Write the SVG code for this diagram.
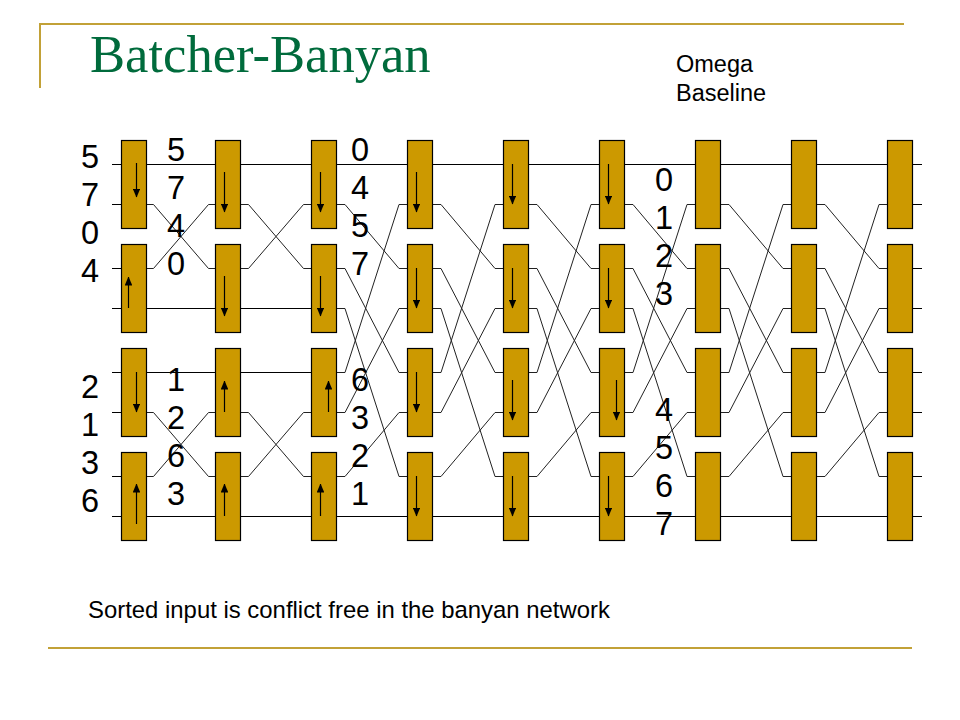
<svg xmlns="http://www.w3.org/2000/svg" width="960" height="720" viewBox="0 0 960 720">
<style>
.frame{stroke:#C2A137;stroke-width:2;fill:none}
.c{fill:none;stroke:#000;stroke-width:1}
.d{fill:none;stroke:#222;stroke-width:1}
.sw{fill:#CC9900;stroke:#000;stroke-width:1.2}
.a{stroke:#000;stroke-width:1.2;fill:none;marker-end:url(#h)}
.n{font-family:"Liberation Sans",Arial,sans-serif;font-size:32.5px;fill:#000;text-anchor:middle}
.t{font-family:"Liberation Sans",Arial,sans-serif;fill:#000}
.title{font-family:"Liberation Serif","Times New Roman",serif;font-size:52.6px;fill:#006B3C}
</style>
<defs>
<marker id="h" markerUnits="userSpaceOnUse" markerWidth="9" markerHeight="7.6" refX="8.5" refY="3.8" orient="auto" viewBox="0 0 9 7.6"><path d="M0 0L9 3.8L0 7.6Z" fill="#000"/></marker>
</defs>
<rect width="960" height="720" fill="#fff"/>
<g id="frame">
<path class="frame" d="M39 24H904M40 24V88M48 648H912"/>
</g>
<text class="title" x="90" y="72">Batcher-Banyan</text>
<g id="connectors">
<path class="c" d="M112 164.5H121.5M112 204.5H121.5M112 268.5H121.5M112 308.5H121.5M112 372.5H121.5M112 412.5H121.5M112 476.5H121.5M112 516.5H121.5"/>
<path class="c" d="M912.5 164.5H922M912.5 204.5H922M912.5 268.5H922M912.5 308.5H922M912.5 372.5H922M912.5 412.5H922M912.5 476.5H922M912.5 516.5H922"/>
<g id="stage1">
<polyline class="c" points="146.5,164.5 215.5,164.5"/>
<polyline class="d" points="146.5,204.5 153.5,204.5 208.5,268.5 215.5,268.5"/>
<polyline class="d" points="146.5,268.5 153.5,268.5 208.5,204.5 215.5,204.5"/>
<polyline class="c" points="146.5,308.5 215.5,308.5"/>
<polyline class="c" points="146.5,372.5 215.5,372.5"/>
<polyline class="d" points="146.5,412.5 153.5,412.5 208.5,476.5 215.5,476.5"/>
<polyline class="d" points="146.5,476.5 153.5,476.5 208.5,412.5 215.5,412.5"/>
<polyline class="c" points="146.5,516.5 215.5,516.5"/>
</g>
<g id="stage2">
<polyline class="c" points="240.5,164.5 311.5,164.5"/>
<polyline class="d" points="240.5,204.5 248.5,204.5 303.5,268.5 311.5,268.5"/>
<polyline class="d" points="240.5,268.5 248.5,268.5 303.5,204.5 311.5,204.5"/>
<polyline class="c" points="240.5,308.5 311.5,308.5"/>
<polyline class="c" points="240.5,372.5 311.5,372.5"/>
<polyline class="d" points="240.5,412.5 248.5,412.5 303.5,476.5 311.5,476.5"/>
<polyline class="d" points="240.5,476.5 248.5,476.5 303.5,412.5 311.5,412.5"/>
<polyline class="c" points="240.5,516.5 311.5,516.5"/>
</g>
<g id="stage3">
<polyline class="c" points="336.5,164.5 407.5,164.5"/>
<polyline class="d" points="336.5,204.5 345,204.5 399,268.5 407.5,268.5"/>
<polyline class="d" points="336.5,268.5 345,268.5 399,372.5 407.5,372.5"/>
<polyline class="d" points="336.5,308.5 345,308.5 399,476.5 407.5,476.5"/>
<polyline class="d" points="336.5,372.5 345,372.5 399,204.5 407.5,204.5"/>
<polyline class="d" points="336.5,412.5 345,412.5 399,308.5 407.5,308.5"/>
<polyline class="d" points="336.5,476.5 345,476.5 399,412.5 407.5,412.5"/>
<polyline class="c" points="336.5,516.5 407.5,516.5"/>
</g>
<g id="stage4">
<polyline class="c" points="432.5,164.5 503.5,164.5"/>
<polyline class="d" points="432.5,204.5 441,204.5 495,268.5 503.5,268.5"/>
<polyline class="d" points="432.5,268.5 441,268.5 495,372.5 503.5,372.5"/>
<polyline class="d" points="432.5,308.5 441,308.5 495,476.5 503.5,476.5"/>
<polyline class="d" points="432.5,372.5 441,372.5 495,204.5 503.5,204.5"/>
<polyline class="d" points="432.5,412.5 441,412.5 495,308.5 503.5,308.5"/>
<polyline class="d" points="432.5,476.5 441,476.5 495,412.5 503.5,412.5"/>
<polyline class="c" points="432.5,516.5 503.5,516.5"/>
</g>
<g id="stage5">
<polyline class="c" points="528.5,164.5 599.5,164.5"/>
<polyline class="d" points="528.5,204.5 537,204.5 591,268.5 599.5,268.5"/>
<polyline class="d" points="528.5,268.5 537,268.5 591,372.5 599.5,372.5"/>
<polyline class="d" points="528.5,308.5 537,308.5 591,476.5 599.5,476.5"/>
<polyline class="d" points="528.5,372.5 537,372.5 591,204.5 599.5,204.5"/>
<polyline class="d" points="528.5,412.5 537,412.5 591,308.5 599.5,308.5"/>
<polyline class="d" points="528.5,476.5 537,476.5 591,412.5 599.5,412.5"/>
<polyline class="c" points="528.5,516.5 599.5,516.5"/>
</g>
<g id="stage6">
<polyline class="c" points="624.5,164.5 695.5,164.5"/>
<polyline class="d" points="624.5,204.5 633,204.5 687,268.5 695.5,268.5"/>
<polyline class="d" points="624.5,268.5 633,268.5 687,372.5 695.5,372.5"/>
<polyline class="d" points="624.5,308.5 633,308.5 687,476.5 695.5,476.5"/>
<polyline class="d" points="624.5,372.5 633,372.5 687,204.5 695.5,204.5"/>
<polyline class="d" points="624.5,412.5 633,412.5 687,308.5 695.5,308.5"/>
<polyline class="d" points="624.5,476.5 633,476.5 687,412.5 695.5,412.5"/>
<polyline class="c" points="624.5,516.5 695.5,516.5"/>
</g>
<g id="stage7">
<polyline class="c" points="720.5,164.5 791.5,164.5"/>
<polyline class="d" points="720.5,204.5 729,204.5 783,268.5 791.5,268.5"/>
<polyline class="d" points="720.5,268.5 729,268.5 783,372.5 791.5,372.5"/>
<polyline class="d" points="720.5,308.5 729,308.5 783,476.5 791.5,476.5"/>
<polyline class="d" points="720.5,372.5 729,372.5 783,204.5 791.5,204.5"/>
<polyline class="d" points="720.5,412.5 729,412.5 783,308.5 791.5,308.5"/>
<polyline class="d" points="720.5,476.5 729,476.5 783,412.5 791.5,412.5"/>
<polyline class="c" points="720.5,516.5 791.5,516.5"/>
</g>
<g id="stage8">
<polyline class="c" points="816.5,164.5 887.5,164.5"/>
<polyline class="d" points="816.5,204.5 825,204.5 879,268.5 887.5,268.5"/>
<polyline class="d" points="816.5,268.5 825,268.5 879,372.5 887.5,372.5"/>
<polyline class="d" points="816.5,308.5 825,308.5 879,476.5 887.5,476.5"/>
<polyline class="d" points="816.5,372.5 825,372.5 879,204.5 887.5,204.5"/>
<polyline class="d" points="816.5,412.5 825,412.5 879,308.5 887.5,308.5"/>
<polyline class="d" points="816.5,476.5 825,476.5 879,412.5 887.5,412.5"/>
<polyline class="c" points="816.5,516.5 887.5,516.5"/>
</g>
</g>
<g id="n1-1"><rect class="sw" x="121.5" y="140.5" width="25" height="88"/><line class="a" x1="136.5" y1="163" x2="136.5" y2="197"/></g>
<g id="n1-2"><rect class="sw" x="121.5" y="244.5" width="25" height="88"/><line class="a" x1="128.5" y1="308" x2="128.5" y2="277"/></g>
<g id="n1-3"><rect class="sw" x="121.5" y="348.5" width="25" height="88"/><line class="a" x1="136.5" y1="372" x2="136.5" y2="412"/></g>
<g id="n1-4"><rect class="sw" x="121.5" y="452.5" width="25" height="88"/><line class="a" x1="136.5" y1="524" x2="136.5" y2="484"/></g>
<g id="n2-1"><rect class="sw" x="215.5" y="140.5" width="25" height="88"/><line class="a" x1="224.5" y1="172" x2="224.5" y2="212"/></g>
<g id="n2-2"><rect class="sw" x="215.5" y="244.5" width="25" height="88"/><line class="a" x1="224.5" y1="276" x2="224.5" y2="316"/></g>
<g id="n2-3"><rect class="sw" x="215.5" y="348.5" width="25" height="88"/><line class="a" x1="224.5" y1="412" x2="224.5" y2="381"/></g>
<g id="n2-4"><rect class="sw" x="215.5" y="452.5" width="25" height="88"/><line class="a" x1="224.5" y1="516" x2="224.5" y2="484"/></g>
<g id="n3-1"><rect class="sw" x="311.5" y="140.5" width="25" height="88"/><line class="a" x1="320.5" y1="172" x2="320.5" y2="212"/></g>
<g id="n3-2"><rect class="sw" x="311.5" y="244.5" width="25" height="88"/><line class="a" x1="320.5" y1="276" x2="320.5" y2="316"/></g>
<g id="n3-3"><rect class="sw" x="311.5" y="348.5" width="25" height="88"/><line class="a" x1="328.5" y1="412" x2="328.5" y2="381"/></g>
<g id="n3-4"><rect class="sw" x="311.5" y="452.5" width="25" height="88"/><line class="a" x1="320.5" y1="516" x2="320.5" y2="484"/></g>
<g id="n4-1"><rect class="sw" x="407.5" y="140.5" width="25" height="88"/><line class="a" x1="416.5" y1="172" x2="416.5" y2="212"/></g>
<g id="n4-2"><rect class="sw" x="407.5" y="244.5" width="25" height="88"/><line class="a" x1="416.5" y1="268" x2="416.5" y2="308"/></g>
<g id="n4-3"><rect class="sw" x="407.5" y="348.5" width="25" height="88"/><line class="a" x1="416.5" y1="372" x2="416.5" y2="412"/></g>
<g id="n4-4"><rect class="sw" x="407.5" y="452.5" width="25" height="88"/><line class="a" x1="416.5" y1="476" x2="416.5" y2="516"/></g>
<g id="n5-1"><rect class="sw" x="503.5" y="140.5" width="25" height="88"/><line class="a" x1="512.5" y1="164" x2="512.5" y2="204"/></g>
<g id="n5-2"><rect class="sw" x="503.5" y="244.5" width="25" height="88"/><line class="a" x1="512.5" y1="268" x2="512.5" y2="308"/></g>
<g id="n5-3"><rect class="sw" x="503.5" y="348.5" width="25" height="88"/><line class="a" x1="512.5" y1="380" x2="512.5" y2="420"/></g>
<g id="n5-4"><rect class="sw" x="503.5" y="452.5" width="25" height="88"/><line class="a" x1="512.5" y1="476" x2="512.5" y2="516"/></g>
<g id="n6-1"><rect class="sw" x="599.5" y="140.5" width="25" height="88"/><line class="a" x1="608.5" y1="164" x2="608.5" y2="204"/></g>
<g id="n6-2"><rect class="sw" x="599.5" y="244.5" width="25" height="88"/><line class="a" x1="608.5" y1="268" x2="608.5" y2="308"/></g>
<g id="n6-3"><rect class="sw" x="599.5" y="348.5" width="25" height="88"/><line class="a" x1="616.5" y1="380" x2="616.5" y2="420"/></g>
<g id="n6-4"><rect class="sw" x="599.5" y="452.5" width="25" height="88"/><line class="a" x1="608.5" y1="476" x2="608.5" y2="516"/></g>
<g id="n7-1"><rect class="sw" x="695.5" y="140.5" width="25" height="88"/></g>
<g id="n7-2"><rect class="sw" x="695.5" y="244.5" width="25" height="88"/></g>
<g id="n7-3"><rect class="sw" x="695.5" y="348.5" width="25" height="88"/></g>
<g id="n7-4"><rect class="sw" x="695.5" y="452.5" width="25" height="88"/></g>
<g id="n8-1"><rect class="sw" x="791.5" y="140.5" width="25" height="88"/></g>
<g id="n8-2"><rect class="sw" x="791.5" y="244.5" width="25" height="88"/></g>
<g id="n8-3"><rect class="sw" x="791.5" y="348.5" width="25" height="88"/></g>
<g id="n8-4"><rect class="sw" x="791.5" y="452.5" width="25" height="88"/></g>
<g id="n9-1"><rect class="sw" x="887.5" y="140.5" width="25" height="88"/></g>
<g id="n9-2"><rect class="sw" x="887.5" y="244.5" width="25" height="88"/></g>
<g id="n9-3"><rect class="sw" x="887.5" y="348.5" width="25" height="88"/></g>
<g id="n9-4"><rect class="sw" x="887.5" y="452.5" width="25" height="88"/></g>
<g id="labels">
<text class="n" x="90" y="168">5</text><text class="n" x="90" y="206">7</text><text class="n" x="90" y="244">0</text><text class="n" x="90" y="282">4</text>
<text class="n" x="90" y="398">2</text><text class="n" x="90" y="436">1</text><text class="n" x="90" y="474">3</text><text class="n" x="90" y="512">6</text>
<text class="n" x="176" y="161">5</text><text class="n" x="176" y="199">7</text><text class="n" x="176" y="237">4</text><text class="n" x="176" y="275">0</text>
<text class="n" x="176" y="391">1</text><text class="n" x="176" y="429">2</text><text class="n" x="176" y="467">6</text><text class="n" x="176" y="505">3</text>
<text class="n" x="360" y="161">0</text><text class="n" x="360" y="199">4</text><text class="n" x="360" y="237">5</text><text class="n" x="360" y="275">7</text>
<text class="n" x="360" y="391">6</text><text class="n" x="360" y="429">3</text><text class="n" x="360" y="467">2</text><text class="n" x="360" y="505">1</text>
<text class="n" x="664" y="191">0</text><text class="n" x="664" y="229">1</text><text class="n" x="664" y="267">2</text><text class="n" x="664" y="305">3</text>
<text class="n" x="664" y="421">4</text><text class="n" x="664" y="459">5</text><text class="n" x="664" y="497">6</text><text class="n" x="664" y="535">7</text>
<text class="t" x="676" y="72" font-size="23.5">Omega</text>
<text class="t" x="676" y="101" font-size="23.5">Baseline</text>
<text class="t" x="88" y="618" font-size="23.9">Sorted input is conflict free in the banyan network</text>
</g>
</svg>
